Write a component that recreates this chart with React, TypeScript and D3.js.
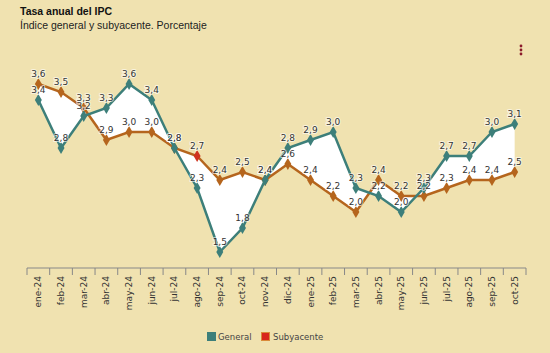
import React, { useEffect, useRef } from 'react';
import * as d3 from 'd3';

const months = [
  'ene-24', 'feb-24', 'mar-24', 'abr-24', 'may-24', 'jun-24', 'jul-24', 'ago-24', 'sep-24', 'oct-24', 'nov-24',
  'dic-24', 'ene-25', 'feb-25', 'mar-25', 'abr-25', 'may-25', 'jun-25', 'jul-25', 'ago-25', 'sep-25', 'oct-25',
];
const general = [3.4, 2.8, 3.2, 3.3, 3.6, 3.4, 2.8, 2.3, 1.5, 1.8, 2.4, 2.8, 2.9, 3.0, 2.3, 2.2, 2.0, 2.3, 2.7, 2.7, 3.0, 3.1];
const subyacente = [3.6, 3.5, 3.3, 2.9, 3.0, 3.0, 2.8, 2.7, 2.4, 2.5, 2.4, 2.6, 2.4, 2.2, 2.0, 2.4, 2.2, 2.2, 2.3, 2.4, 2.4, 2.5];

const W = 550;
const H = 353;
const BG = '#f0e2b0';
const TEAL = '#3d7f7a';
const ORANGE = '#b5651d';

const App = () => {
  const svgRef = useRef(null);

  useEffect(() => {
    document.body.style.margin = '0';
    const svg = d3.select(svgRef.current);
    svg.selectAll('*').remove();

    const x = d3.scaleBand().domain(months).range([27, 526]);
    const y = d3.scaleLinear().domain([1.3, 3.8]).range([268, 68]);
    const cx = (i) => x(months[i]) + x.bandwidth() / 2;

    svg.append('rect').attr('width', W).attr('height', H).attr('fill', BG);

    // titles
    svg.append('text').attr('x', 20).attr('y', 15)
      .style('font', 'bold 10.5px "Liberation Sans", Arial, sans-serif').attr('fill', '#111')
      .text('Tasa anual del IPC');
    svg.append('text').attr('x', 20).attr('y', 29)
      .style('font', '10.5px "Liberation Sans", Arial, sans-serif').attr('fill', '#222')
      .text('Índice general y subyacente. Porcentaje');

    // menu dots
    [46, 50, 54].forEach(dy => {
      svg.append('circle').attr('cx', 521).attr('cy', dy).attr('r', 1.4).attr('fill', '#8b1a2a');
    });

    // white fill between the two series
    const area = d3.area()
      .x((d, i) => cx(i))
      .y0((d) => y(d[1]))
      .y1((d) => y(d[0]));
    svg.append('path')
      .datum(general.map((g, i) => [g, subyacente[i]]))
      .attr('d', area)
      .attr('fill', '#fff');

    // x axis
    const axis = svg.append('g').attr('transform', 'translate(0,268)');
    axis.append('line').attr('x1', 27).attr('x2', 526).attr('stroke', '#888').attr('stroke-width', 1);
    months.forEach((m) => {
      axis.append('line').attr('x1', x(m)).attr('x2', x(m)).attr('y1', 0).attr('y2', 7)
        .attr('stroke', '#888');
    });
    axis.append('line').attr('x1', 526).attr('x2', 526).attr('y1', 0).attr('y2', 7).attr('stroke', '#888');
    months.forEach((m, i) => {
      axis.append('text')
        .attr('transform', `translate(${cx(i) + 3},8) rotate(-90)`)
        .attr('text-anchor', 'end')
        .style('font', '9px "DejaVu Sans", Verdana, sans-serif')
        .attr('fill', '#333')
        .text(m);
    });

    const line = d3.line().x((d, i) => cx(i)).y((d) => y(d));
    const diamond = d3.symbol().type(d3.symbolDiamond).size(42);

    const drawSeries = (data, color, hl) => {
      svg.append('path').datum(data).attr('d', line)
        .attr('fill', 'none').attr('stroke', color).attr('stroke-width', 2.5);
      data.forEach((v, i) => {
        svg.append('path').attr('d', diamond)
          .attr('transform', `translate(${cx(i)},${y(v)})`)
          .attr('fill', hl === i ? '#d0321e' : color);
      });
    };
    drawSeries(subyacente, ORANGE, 7);
    drawSeries(general, TEAL, -1);

    const labels = (data) => {
      data.forEach((v, i) => {
        svg.append('text')
          .attr('x', cx(i)).attr('y', y(v) - 7)
          .attr('text-anchor', 'middle')
          .style('font', '9px "DejaVu Sans", Verdana, sans-serif')
          .attr('fill', '#333')
          .attr('stroke', 'rgba(255,255,255,0.6)').attr('stroke-width', 2).attr('paint-order', 'stroke')
          .text(v.toFixed(1).replace('.', ','));
      });
    };
    labels(subyacente);
    labels(general);

    // legend
    const lg = svg.append('g').style('font', '8.5px "DejaVu Sans", Verdana, sans-serif');
    lg.append('rect').attr('x', 207).attr('y', 332).attr('width', 9).attr('height', 9).attr('fill', TEAL);
    lg.append('text').attr('x', 218).attr('y', 340).attr('fill', '#444').text('General');
    lg.append('rect').attr('x', 261.5).attr('y', 332.5).attr('width', 8).attr('height', 8)
      .attr('fill', '#d8261c').attr('stroke', '#d98a3a').attr('stroke-width', 1);
    lg.append('text').attr('x', 273).attr('y', 340).attr('fill', '#444').text('Subyacente');
  }, []);

  return <svg ref={svgRef} width={W} height={H} style={{ display: 'block' }}></svg>;
};

export default App;
